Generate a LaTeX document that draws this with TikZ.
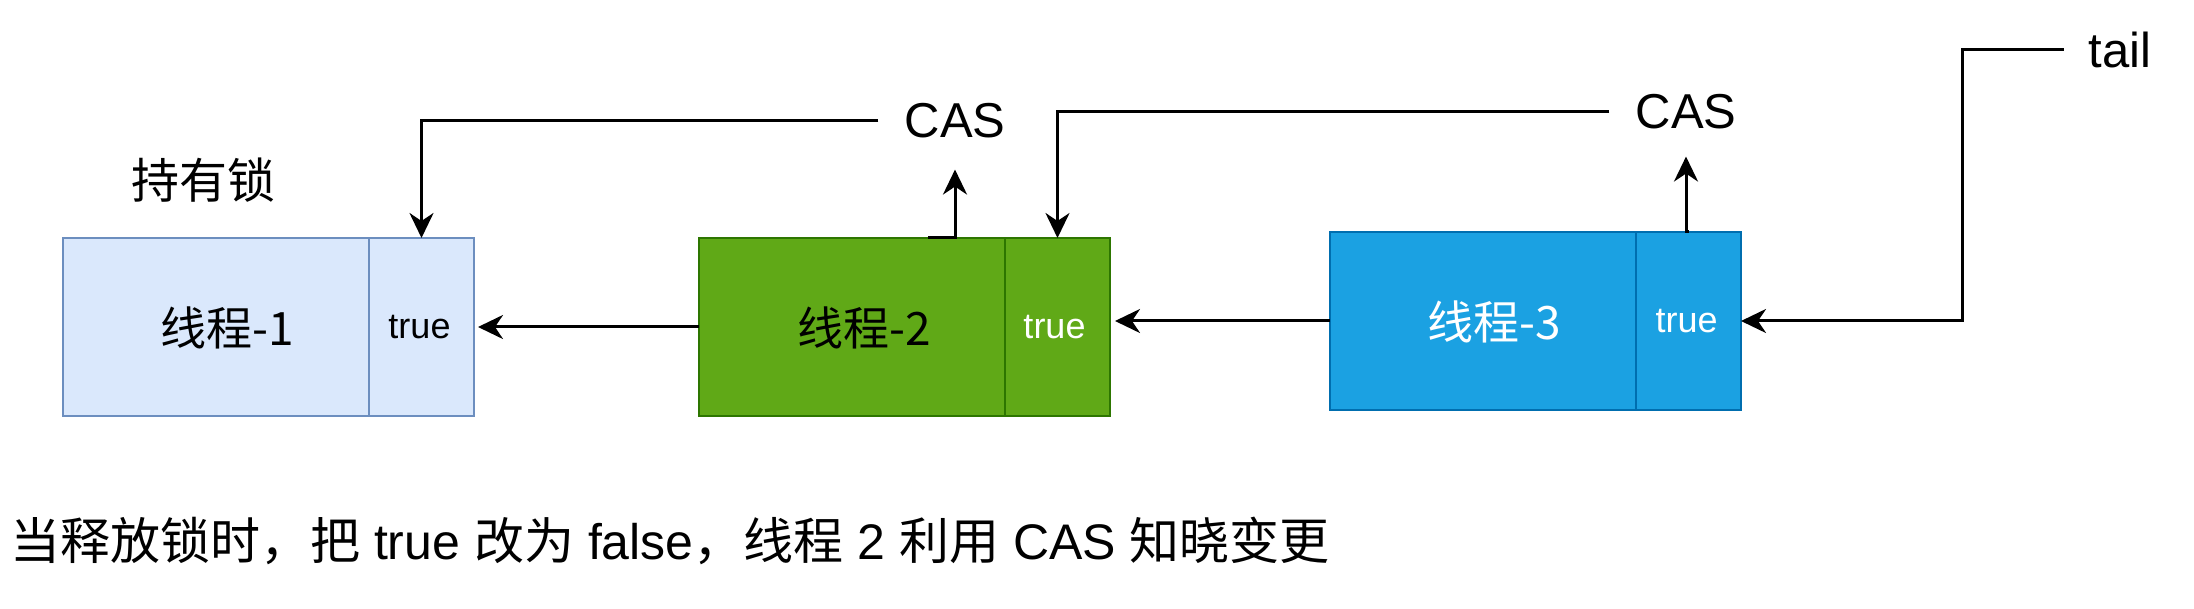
\documentclass[tikz,border=0pt]{standalone}
\usepackage{fontspec}
\setmainfont{Liberation Sans}
\newfontfamily\cjk{Noto Sans CJK SC}
\usetikzlibrary{arrows.meta,calc}
\definecolor{bonefill}{HTML}{DAE8FC}
\definecolor{boneline}{HTML}{6C8EBF}
\definecolor{btwofill}{HTML}{60A917}
\definecolor{btwoline}{HTML}{2D7600}
\definecolor{bthreefill}{HTML}{1BA1E2}
\definecolor{bthreeline}{HTML}{006EAF}
\begin{document}
\begin{tikzpicture}[x=1pt,y=-1pt,
  cell/.style={draw, line width=2.8pt, minimum height=178pt, inner sep=0pt, outer sep=0pt, anchor=north west},
  mainc/.style={cell, minimum width=306pt},
  truec/.style={cell, minimum width=105pt},
  bone/.style={fill=bonefill, draw=boneline},
  btwo/.style={fill=btwofill, draw=btwoline},
  bthree/.style={fill=bthreefill, draw=bthreeline},
  namefont/.style={font=\cjk\fontsize{46}{52}\selectfont, inner sep=0pt},
  truefont/.style={font=\fontsize{36}{40}\selectfont, inner sep=0pt},
  lbl/.style={font=\fontsize{49}{56}\selectfont, inner sep=0pt},
  conn/.style={draw, line width=3pt, -{Stealth[length=25pt,width=24pt,inset=8pt]}}
]
\useasboundingbox (0,0) rectangle (2194,609);
\fill[white] (0,0) rectangle (2194,609);

% thread 1
\node[mainc, bone] (t1main) at (63,238) {};
\node[truec, bone] (t1true) at (t1main.north east) {};
\node[namefont] (n1) at ($(t1main.center)+(11,1)$) {线程-1};
\node[truefont] (v1) at ($(t1true.center)+(-2,0)$) {true};

% thread 2
\node[mainc, btwo] (t2main) at (699,238) {};
\node[truec, btwo] (t2true) at (t2main.north east) {};
\node[namefont, text=black] (n2) at ($(t2main.center)+(12,1)$) {线程-2};
\node[truefont, text=white] (v2) at ($(t2true.center)+(-3,0)$) {true};

% thread 3
\node[mainc, bthree] (t3main) at (1330,232) {};
\node[truec, bthree] (t3true) at (t3main.north east) {};
\node[namefont, text=white] (n3) at ($(t3main.center)+(11,1)$) {线程-3};
\node[truefont, text=white] (v3) at ($(t3true.center)+(-2,0)$) {true};

% labels
\node[lbl] (cas1) at (955,121) {CAS};
\node[lbl] (cas2) at (1686,112) {CAS};
\node[lbl] (tail) at (2120,50) {tail};
\node[font=\cjk\fontsize{48}{54}\selectfont, inner sep=0pt] (hold) at (203,180) {持有锁};
\node[font=\fontsize{50}{58}\selectfont, inner sep=0pt, anchor=base west] (note) at (10,559)
  {{\cjk 当释放锁时，把} true {\cjk 改为} false{\cjk ，线程} 2 {\cjk 利用} CAS {\cjk 知晓变更}};

% connectors
\draw[conn, shorten >=4pt] (t2main.west) -- (t1true.east);
\draw[conn, shorten >=5pt] (t3main.west) -- (t3main.west -| t2true.east);
\draw[conn] (tail.west) ++(-25,0) coordinate (tailstart) -- ++(-101,0) |- (t3true.east);
\draw[conn, shorten <=26pt] (cas1.west) -| (t1true.north);
\draw[conn, shorten <=26pt] (cas2.west) -| (t2true.north);
\draw[conn, shorten >=31pt] ($(t2main.north east)+(-77,0)$) coordinate (cstart) -- (cstart -| cas1.south) -- (cas1.south);
\draw[conn, shorten >=27pt] (t3true.north) -- (t3true.north -| cas2.south) -- (cas2.south);
\end{tikzpicture}
\end{document}
